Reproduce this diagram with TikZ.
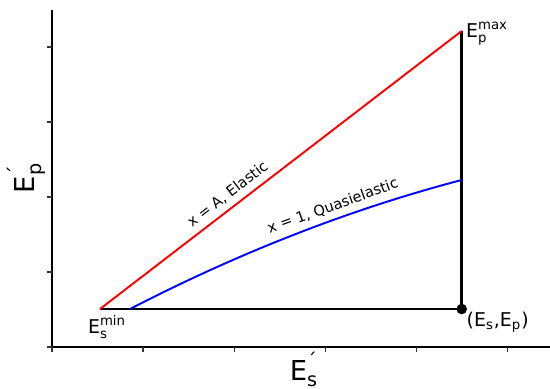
\documentclass[tikz,border=0pt]{standalone}
\usepackage{amsmath}
\usepackage{fontspec}
\setmainfont{DejaVu Sans}
\begin{document}
\begin{tikzpicture}[
  spine/.style={line width=0.7pt, black},
  tickmark/.style={line width=0.7pt, black!80},
  bound/.style={line width=1.7pt, black},
  elastic/.style={line width=1.1pt, red},
  quasi/.style={line width=1.1pt, blue},
  curvelbl/.style={font=\fontsize{8.3}{10}\selectfont, text=black, sloped, above},
  ptlbl/.style={font=\fontsize{10.8}{13}\selectfont, inner sep=0pt},
  axlbl/.style={font=\fontsize{15.6}{18}\selectfont, inner sep=0pt}
]
\useasboundingbox (-1.04,-0.82) rectangle (9.96,6.94);

% Axes (left and bottom only)
\coordinate (origin) at (0,0);
\coordinate (ytop) at (0,6.74);
\coordinate (xend) at (9.96,0);
\draw[spine] (ytop) -- (origin) -- (xend);
\foreach \y in {0,1.5,3,4.5,6}
  \draw[tickmark] (0,\y) -- (-0.1,\y);
\foreach \i in {0,...,5}
  \draw[tickmark] (\i*1.822,0) -- (\i*1.822,-0.1);

% Kinematic points
\coordinate (smin) at (0.96,0.76);
\coordinate (pmax) at (8.194,6.32);
\coordinate (sp) at (8.194,0.76);
\coordinate (qs) at (1.56,0.76);
\coordinate (qe) at (8.194,3.34);

% Boundary of the allowed region
\draw[bound] (smin) -- (sp) -- (pmax);
\fill (sp) circle (0.106);

% Elastic and quasielastic lines
\draw[elastic] (smin) -- (pmax)
  node[curvelbl, pos=0.375] (elbl) {x = A, Elastic};
\draw[quasi] (qs) .. controls (3.771,1.901) and (5.983,2.76) .. (qe)
  node[curvelbl, pos=0.625] (qlbl) {x = 1, Quasielastic};

% Point labels
\node[ptlbl, anchor=west] (pmaxlbl) at (8.276,6.27) {$\text{E}^{\text{max}}_{\text{p}}$};
\node[ptlbl] (sminlbl) at (1.10,0.40) {$\text{E}^{\text{min}}_{\text{s}}$};
\node[ptlbl] (splbl) at (8.914,0.49) {(E$_{\text{s}}$,E$_{\text{p}}$)};

% Axis labels
\node[axlbl] (xlbl) at (5.04,-0.45) {$\text{E}^{\text{´}}_{\text{s}}$};
\node[axlbl, rotate=90] (ylbl) at (-0.52,3.38) {$\text{E}^{\text{´}}_{\text{p}}$};

\end{tikzpicture}
\end{document}
